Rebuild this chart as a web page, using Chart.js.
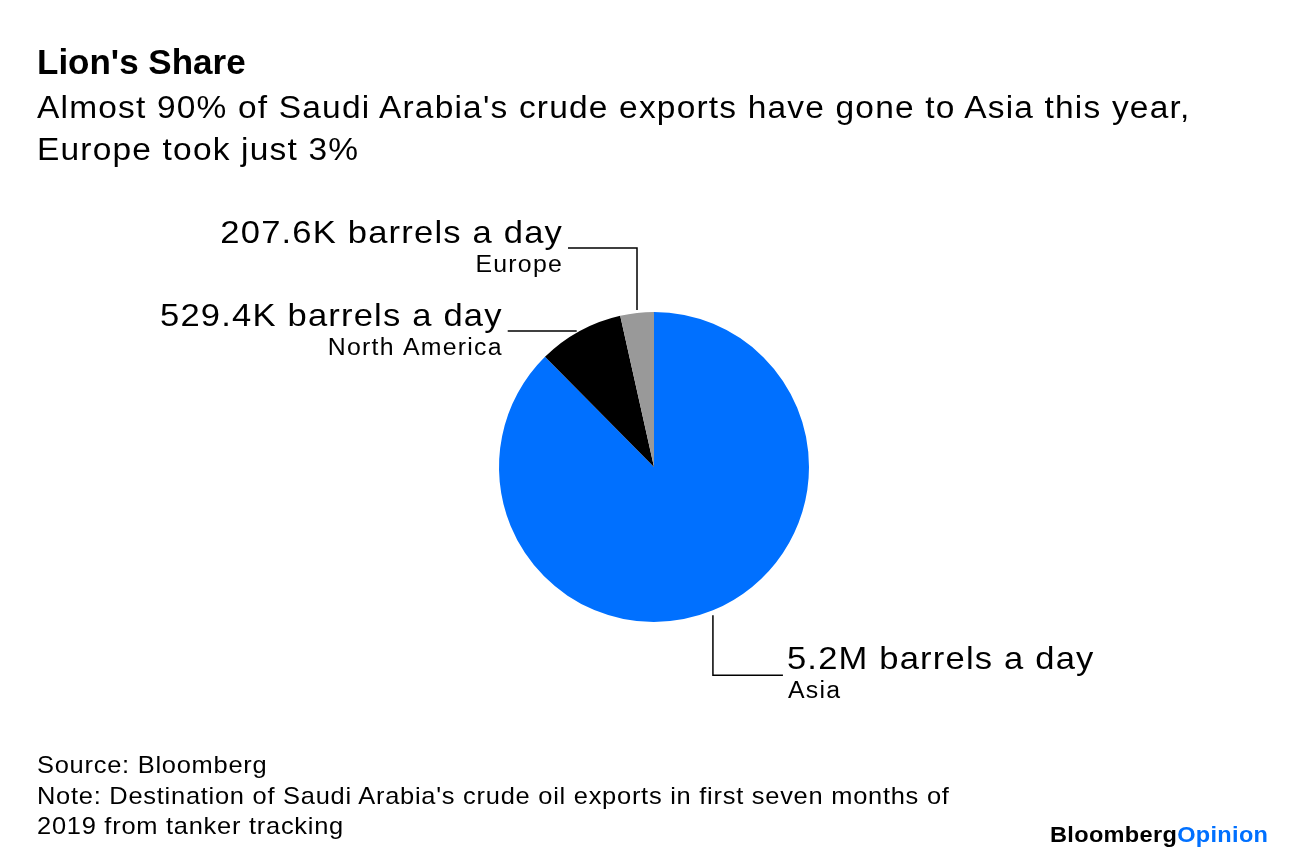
<!DOCTYPE html>
<html>
<head>
<meta charset="utf-8">
<script src="https://cdn.jsdelivr.net/npm/chart.js@4.4.1/dist/chart.umd.min.js"></script>
<style>
  html, body { margin: 0; padding: 0; background: #fff; }
  body { width: 1296px; height: 854px; position: relative; overflow: hidden; font-family: "Liberation Sans", Arial, sans-serif; color: #000; }
  #wrap { position: absolute; left: 0; top: 0; width: 1296px; height: 854px; }
  .txt { position: absolute; white-space: nowrap; transform-origin: 0 0; }
  #title { left: 37px; top: 42px; font-size: 35px; font-weight: bold; }
  #subtitle { left: 37px; top: 87px; font-size: 31px; line-height: 42px; letter-spacing: 1.1px; transform: scaleX(1.08); }
  #footer { left: 37px; top: 750px; font-size: 24px; line-height: 30.5px; letter-spacing: 0.7px; transform: scaleX(1.06); }
  #logo { left: 1050px; top: 824px; font-size: 22px; line-height: 22px; font-weight: bold; letter-spacing: 0.3px; transform: scaleX(1.07); }
  #logo span { color: #0070ff; }
</style>
</head>
<body>
<div id="wrap"><canvas id="myChart" width="1296" height="854"></canvas></div>
<div class="txt" id="title">Lion's Share</div>
<div class="txt" id="subtitle">Almost 90% of Saudi Arabia's crude exports have gone to Asia this year,<br>Europe took just 3%</div>
<div class="txt" id="footer">Source: Bloomberg<br>Note: Destination of Saudi Arabia's crude oil exports in first seven months of<br>2019 from tanker tracking</div>
<div class="txt" id="logo">Bloomberg<span>Opinion</span></div>
<script>
    'use strict';

    // barrels a day, thousands
    var regions = ['Asia', 'North America', 'Europe'];
    var barrels = [5200, 529.4, 207.6];
    var valueLabels = ['5.2M barrels a day', '529.4K barrels a day', '207.6K barrels a day'];
    var colors = ['#0070ff', '#000000', '#999999'];

    function wideText(ctx, text, x, y, spacing) {
        ctx.save();
        ctx.translate(x, y);
        ctx.scale(1.08, 1);
        ctx.letterSpacing = spacing;
        ctx.fillText(text, 0, 0);
        ctx.restore();
    }

    // leader lines + labels, anchored at each slice's outer mid point
    var calloutPlugin = {
        id: 'callouts',
        afterDatasetsDraw: function (chart) {
            var ctx = chart.ctx;
            var arcs = chart.getDatasetMeta(0).data;
            ctx.save();
            ctx.strokeStyle = '#000';
            ctx.lineWidth = 1.5;
            ctx.fillStyle = '#000';
            arcs.forEach(function (arc, i) {
                var mid = (arc.startAngle + arc.endAngle) / 2;
                var px = arc.x + Math.cos(mid) * arc.outerRadius;
                var py = arc.y + Math.sin(mid) * arc.outerRadius;
                var pts, tx, ty, align;
                if (regions[i] === 'Asia') {
                    pts = [[px, py + 5], [px, py + 65], [px + 70, py + 65]];
                    tx = px + 74; ty = py + 59; align = 'left';
                } else if (regions[i] === 'Europe') {
                    pts = [[px, py - 3], [px, py - 65], [px - 69, py - 65]];
                    tx = px - 74; ty = py - 70; align = 'right';
                } else {
                    pts = [[px - 3, py], [px - 72, py]];
                    tx = px - 77; ty = py - 5; align = 'right';
                }
                ctx.beginPath();
                ctx.moveTo(pts[0][0], pts[0][1]);
                for (var k = 1; k < pts.length; k++) {
                    ctx.lineTo(pts[k][0], pts[k][1]);
                }
                ctx.stroke();
                ctx.textAlign = align;
                ctx.textBaseline = 'alphabetic';
                ctx.font = '32px "Liberation Sans", Arial, sans-serif';
                wideText(ctx, valueLabels[i], tx, ty, '1.1px');
                ctx.font = '23px "Liberation Sans", Arial, sans-serif';
                wideText(ctx, regions[i], tx + (align === 'left' ? 1 : 0), ty + 29, '1.15px');
            });
            ctx.restore();
        }
    };

    new Chart(document.getElementById('myChart').getContext('2d'), {
        type: 'pie',
        data: {
            labels: regions,
            datasets: [{
                data: barrels,
                backgroundColor: colors,
                borderWidth: 0
            }]
        },
        options: {
            responsive: false,
            animation: false,
            layout: {
                padding: { left: 499, right: 487, top: 312, bottom: 232 }
            },
            plugins: {
                legend: { display: false },
                tooltip: { enabled: false }
            }
        },
        plugins: [calloutPlugin]
    });
</script>
</body>
</html>
